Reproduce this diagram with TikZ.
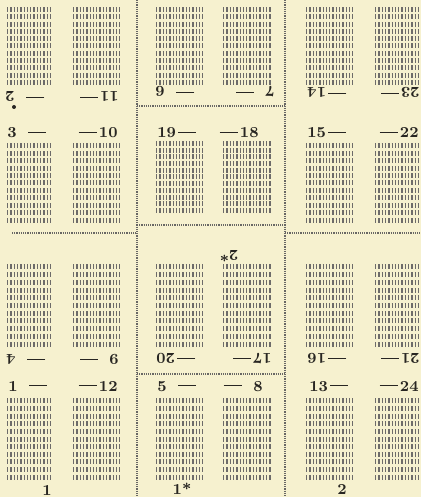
\documentclass[tikz,border=0pt]{standalone}
\usepackage{tikz}

\definecolor{paper}{RGB}{246,241,207}
\definecolor{ink}{RGB}{40,38,34}

% page number with its rule
\newcommand{\pdash}{\rule[2.3pt]{9pt}{0.9pt}}
\newcommand{\numdash}[1]{\makebox[10.5pt][l]{#1}\pdash}
\newcommand{\dashnum}[1]{\pdash\makebox[10.5pt][r]{#1}}
% one hatched text block: left, top, right, bottom
\newcommand{\hatchblock}[4]{%
  \foreach \r in {0,...,10}{%
    \pgfmathsetmacro{\yy}{#2+(\r+0.5)*(#4-#2)/11}
    \draw[hatch] (#1,\yy) -- (#3,\yy);
  }}

\begin{document}
\begin{tikzpicture}[x=0.5pt, y=-0.5pt,
    hatch/.style={draw=ink!68, line width=2.5pt, dash pattern=on 0.65pt off 1pt},
    cut/.style={draw=ink!70, line width=0.6pt, dash pattern=on 0.6pt off 0.5pt},
    num/.style={inner sep=0pt, text=ink, font=\fontsize{7.6}{10}\selectfont\bfseries},
    flip/.style={num, rotate=180}]
    \fill[paper] (0,0) rectangle (421,497);
    \useasboundingbox (0,0) rectangle (421,497);

    % text blocks
    \foreach \xa/\xb in {7/53,73/120,156/203,223/271,306/353,375/421}{
        \hatchblock{\xa}{6}{\xb}{86}
        \hatchblock{\xa}{263}{\xb}{348}
        \hatchblock{\xa}{397}{\xb}{481}
    }
    \foreach \xa/\xb in {7/53,73/120,306/353,375/421}{
        \hatchblock{\xa}{142}{\xb}{224}
    }
    \foreach \xa/\xb in {156/203,223/271}{
        \hatchblock{\xa}{140}{\xb}{214}
    }

    % cutting lines
    \draw[cut] (137,0) -- (137,497);
    \draw[cut] (285,0) -- (285,497);
    \draw[cut] (137,106) -- (285,106);
    \draw[cut] (137,225) -- (285,225);
    \draw[cut] (137,374) -- (285,374);
    \draw[cut] (12,233) -- (137,233);
    \draw[cut] (285,233) -- (421,233);

    % top row, upside down
    \node[flip, anchor=base east] (p2) at (5,92) {\dashnum{2}};
    \node[flip, anchor=base west] (p11) at (119,92) {\numdash{11}};
    \node[flip, anchor=base east] (p6) at (155,87) {\dashnum{6}};
    \node[flip, anchor=base west] (p7) at (275,87) {\numdash{7}};
    \node[flip, anchor=base east] (p14) at (307,88) {\dashnum{14}};
    \node[flip, anchor=base west] (p23) at (420,88) {\numdash{23}};
    \fill[ink] (14,107) circle (2);

    % second row
    \node[num, anchor=base west] (p3) at (7,138) {\numdash{3}};
    \node[num, anchor=base east] (p10) at (118,138) {\dashnum{10}};
    \node[num, anchor=base west] (p19) at (157,138) {\numdash{19}};
    \node[num, anchor=base east] (p18) at (259,138) {\dashnum{18}};
    \node[num, anchor=base west] (p15) at (307,138) {\numdash{15}};
    \node[num, anchor=base east] (p22) at (419,138) {\dashnum{22}};

    % third row, upside down
    \node[flip, anchor=base east] (p4) at (6,354) {\dashnum{4}};
    \node[flip, anchor=base west] (p9) at (119,354) {\numdash{9}};
    \node[flip, anchor=base east] (p20) at (156,353) {\dashnum{20}};
    \node[flip, anchor=base west] (p17) at (272,353) {\numdash{17}};
    \node[flip, anchor=base east] (p16) at (307,353) {\dashnum{16}};
    \node[flip, anchor=base west] (p21) at (420,353) {\numdash{21}};
    \node[flip] (sig2s) at (229,256) {2*};

    % bottom row
    \node[num, anchor=base west] (p1) at (8,391) {\numdash{1}};
    \node[num, anchor=base east] (p12) at (118,391) {\dashnum{12}};
    \node[num, anchor=base west] (p5) at (157,391) {\numdash{5}};
    \node[num, anchor=base east] (p8) at (263,391) {\dashnum{8}};
    \node[num, anchor=base west] (p13) at (309,391) {\numdash{13}};
    \node[num, anchor=base east] (p24) at (419,391) {\dashnum{24}};

    % signature marks
    \node[num] (sig1) at (47,490) {1};
    \node[num] (sig1s) at (182,489) {1*};
    \node[num] (sig2) at (342,489) {2};
\end{tikzpicture}
\end{document}
